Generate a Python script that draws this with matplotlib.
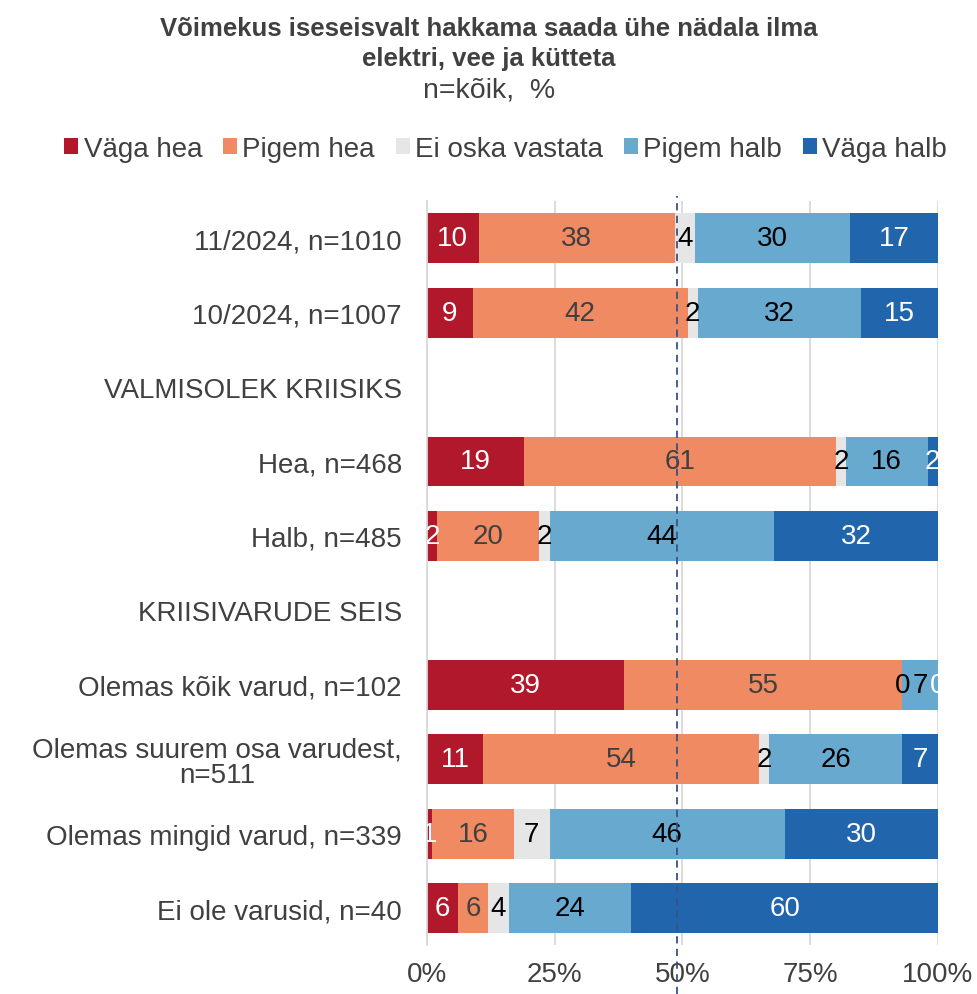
import pandas as pd
import matplotlib.pyplot as plt

plt.rcParams['font.family'] = ['Liberation Sans', 'DejaVu Sans']
plt.rcParams['text.color'] = '#404040'

columns = ['Väga hea', 'Pigem hea', 'Ei oska vastata', 'Pigem halb', 'Väga halb']
colors = ['#B2182B', '#EF8A62', '#E6E6E6', '#67A9CF', '#2166AC']
text_colors = ['white', '#404040', 'black', 'black', 'white']  # label colour per segment

rows = ['11/2024, n=1010', '10/2024, n=1007', 'VALMISOLEK KRIISIKS', 'Hea, n=468', 'Halb, n=485',
        'KRIISIVARUDE SEIS', 'Olemas kõik varud, n=102', 'Olemas suurem osa varudest,\nn=511',
        'Olemas mingid varud, n=339', 'Ei ole varusid, n=40']
values = [[10, 38, 4, 30, 17],
          [9, 42, 2, 32, 15],
          [None] * 5,
          [19, 61, 2, 16, 2],
          [2, 20, 2, 44, 32],
          [None] * 5,
          [39, 55, 0, 7, 0],
          [11, 54, 2, 26, 7],
          [1, 16, 7, 46, 30],
          [6, 6, 4, 24, 60]]

df1 = pd.DataFrame(values, index=rows, columns=columns)
df1_pct = df1.div(df1.sum(axis=1), axis=0) * 100  # 100% stacked, like the source chart
y = range(len(df1))

fig, ax1 = plt.subplots(figsize=(9.78, 9.95), dpi=100)
fig.subplots_adjust(left=0.4366, right=0.959, top=0.797, bottom=0.049)

left = pd.Series(0.0, index=df1.index)
for col, color, tcol in zip(columns, colors, text_colors):
    widths = df1_pct[col].fillna(0)
    ax1.barh(y, widths, left=left, height=0.67, color=color, label=col, zorder=2)
    for i, row in enumerate(df1.index):
        if pd.isna(df1.loc[row, col]):
            continue
        ax1.text(left[row] + widths[row] / 2, i, f"{int(df1.loc[row, col])}", ha='center', va='center',
                 color=tcol, fontsize=20, zorder=4, clip_on=True)
    left = left + widths

# dashed reference line near the middle
ax1.plot([49, 49], [-0.066, 1.007], transform=ax1.get_xaxis_transform(), color='#3B5284',
         linestyle=(0, (4, 3)), linewidth=1.3, clip_on=False, zorder=5)

ax1.set_xlim(0, 100)
ax1.set_ylim(len(df1) - 0.5, -0.5)
ax1.set_yticks(list(y))
ax1.set_yticklabels(rows, fontsize=20, color='#404040', multialignment='center', linespacing=1.0)
ax1.set_xticks([0, 25, 50, 75, 100])
ax1.set_xticklabels(['0%', '25%', '50%', '75%', '100%'], fontsize=20, color='#404040')
ax1.tick_params(axis='y', length=0, pad=18)
ax1.tick_params(axis='x', length=0, pad=11)
ax1.grid(axis='x', color='#D9D9D9', linewidth=1.3, zorder=0)
ax1.set_axisbelow(True)
for side in ['top', 'right', 'bottom']:
    ax1.spines[side].set_visible(False)
ax1.spines['left'].set_color('#D9D9D9')
ax1.spines['left'].set_linewidth(1.3)

fig.text(0.5, 0.956, "Võimekus iseseisvalt hakkama saada ühe nädala ilma\nelektri, vee ja kütteta",
         ha='center', va='center', fontsize=18.5, fontweight='bold', color='#404040', linespacing=1.3)
fig.text(0.5, 0.909, "n=kõik,  %", ha='center', va='center', fontsize=20.5, color='#404040')
fig.legend(loc='center', bbox_to_anchor=(0.517, 0.849), ncol=5, frameon=False, fontsize=20,
           handlelength=0.5, handleheight=0.5, handletextpad=0.2, columnspacing=0.75)

fig.savefig("out.png")
